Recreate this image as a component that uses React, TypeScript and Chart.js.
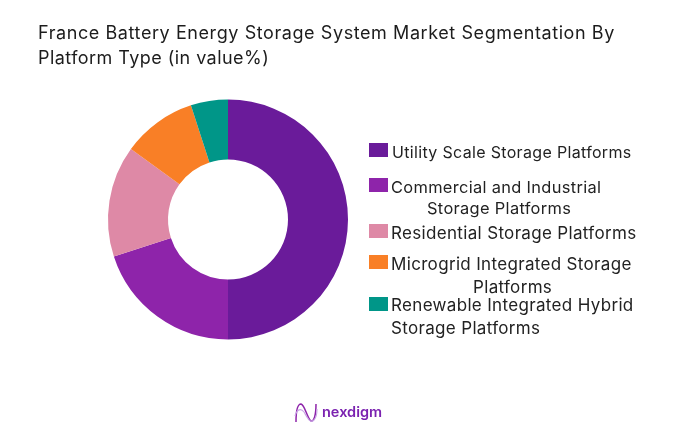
import { Chart, registerables } from 'chart.js';
import React, { useEffect, useRef } from 'react';

const titleLines = ['France Battery Energy Storage System Market Segmentation By', 'Platform Type (in value%)'];
const categories = [
  ['Utility Scale Storage Platforms'],
  ['Commercial and Industrial', 'Storage Platforms'],
  ['Residential Storage Platforms'],
  ['Microgrid Integrated Storage', 'Platforms'],
  ['Renewable Integrated Hybrid', 'Storage Platforms'],
];
const shares = [50, 20, 15, 10, 5];
const colors = ['#6a1b9a', '#8e24aa', '#de89a6', '#f97f26', '#009688'];

// legend layout is uneven in the original, so it is placed by hand
const swatchTops = [143, 178, 224, 255, 297];
const labelSizes = [16, 16.4, 17, 17, 17];
const lineSpots = [
  [[392, 152]],
  [[391, 187], [427, 208]],
  [[391, 233]],
  [[391, 264], [473, 287]],
  [[391, 305], [391, 328]],
];

const FONT = 'Inter, "Open Sans", sans-serif';

export default function App() {
  const canvasRef = useRef<HTMLCanvasElement>(null);

  useEffect(() => {
    Chart.register(...registerables);
    const myChart = new Chart(canvasRef.current!, {
      type: 'doughnut',
      data: {
        labels: categories.map((c) => c.join(' ')),
        datasets: [{ data: shares, backgroundColor: colors, borderWidth: 0 }],
      },
      options: {
        responsive: false,
        animation: false,
        cutout: '50%',
        layout: { padding: { left: 108, right: 333, top: 99.5, bottom: 95.5 } },
        plugins: { legend: { display: false }, title: { display: false }, tooltip: { enabled: false } },
      },
    });
    return () => {
      myChart.destroy();
    };
  }, []);

  const textStyle: React.CSSProperties = {
    position: 'absolute',
    whiteSpace: 'nowrap',
    fontFamily: FONT,
    color: '#222',
    lineHeight: 1,
  };

  return (
    <div style={{ position: 'fixed', left: 0, top: 0, width: 681, height: 435, background: '#fff', overflow: 'hidden' }}>
      <canvas ref={canvasRef} width={681} height={435} style={{ position: 'absolute', left: 0, top: 0 }} />
      {titleLines.map((t, i) => (
        <div key={t} style={{ ...textStyle, left: 38, top: 24 + i * 25, fontSize: 18, letterSpacing: i ? 0.45 : 0.58, color: '#1c1c1c' }}>
          {t}
        </div>
      ))}
      {categories.map((lines, i) => (
        <React.Fragment key={lines[0]}>
          <div style={{ position: 'absolute', left: 369, top: swatchTops[i], width: 19, height: 14, background: colors[i] }} />
          {lines.map((line, j) => (
            <div
              key={line}
              style={{
                ...textStyle,
                left: lineSpots[i][j][0],
                top: lineSpots[i][j][1] - labelSizes[i] / 2,
                fontSize: labelSizes[i],
                letterSpacing: 0.33,
              }}
            >
              {line}
            </div>
          ))}
        </React.Fragment>
      ))}
      <svg style={{ position: 'absolute', left: 293, top: 401 }} width={26} height={24} viewBox="0 0 26 24" fill="none">
        <path d="M3 21 C3 8 5 3 8 3 C12 4 14 17 18 20 C21 21 23 14 23 3" stroke="#8e24aa" strokeWidth={1.5} />
        <path d="M2 15 C4 8 8 7 11 11 C14 16 17 23 21 19 C23 17 24 12 24 8" stroke="#c9a6e6" strokeWidth={1.1} />
      </svg>
      <div style={{ ...textStyle, left: 322, top: 405, fontSize: 14.5, fontWeight: 600, color: '#7b22b0' }}>nexdigm</div>
    </div>
  );
}
